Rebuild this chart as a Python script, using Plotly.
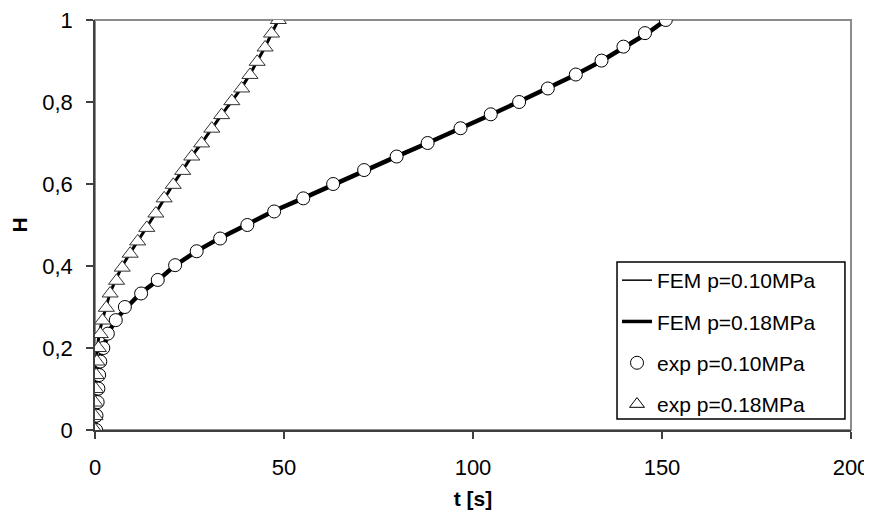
import plotly.graph_objects as go

# experimental data, p = 0.10 MPa (circles)
exp010_t = [0.3, 0.4, 0.7, 0.9, 1.1, 1.4, 2.2, 3.4, 5.5, 7.9, 12.2, 16.6, 21.2, 26.9, 33.1, 40.3,
            47.4, 55.1, 63.0, 71.2, 79.8, 88.0, 96.7, 104.7, 112.2, 119.8, 127.2, 134.0, 139.8, 145.5, 151.0]
exp010_H = [0.0, 0.035, 0.068, 0.101, 0.134, 0.167, 0.2, 0.235, 0.268, 0.3, 0.333, 0.366, 0.402,
            0.436, 0.467, 0.5, 0.533, 0.565, 0.6, 0.634, 0.667, 0.7, 0.736, 0.77, 0.8, 0.833, 0.867,
            0.901, 0.935, 0.968, 1.0]

# experimental data, p = 0.18 MPa (triangles)
exp018_t = [0.0, 0.0, 0.0, 0.2, 0.3, 0.5, 0.9, 1.4, 2.0, 3.0, 4.0, 5.7, 7.2, 9.3, 11.3, 13.7, 16.1,
            18.3, 20.7, 23.2, 25.6, 28.2, 30.9, 33.5, 36.2, 38.8, 41.0, 42.9, 45.0, 46.7, 48.5]
exp018_H = [0.0, 0.034, 0.067, 0.1, 0.134, 0.167, 0.2, 0.234, 0.267, 0.298, 0.333, 0.364, 0.396,
            0.43, 0.46, 0.493, 0.528, 0.565, 0.598, 0.632, 0.667, 0.699, 0.735, 0.768, 0.802, 0.833,
            0.866, 0.898, 0.933, 0.967, 1.0]

# FEM results
fem010_t = [0, 0.5, 1.5, 2.5, 4, 6, 9, 12, 17, 21, 27, 33, 40, 47, 55, 63, 71, 80, 88, 97, 105,
            112, 120, 127, 134, 140, 146, 151]
fem010_H = [0, 0.1, 0.18, 0.21, 0.245, 0.275, 0.305, 0.333, 0.368, 0.4, 0.437, 0.468, 0.5, 0.533,
            0.565, 0.598, 0.633, 0.668, 0.7, 0.736, 0.77, 0.8, 0.834, 0.866, 0.9, 0.934, 0.967, 1.0]
fem018_t = [0, 0.3, 0.6, 1.2, 2.0, 3.0, 4.0, 5.5, 7.2, 9.3, 11.3, 13.7, 16.1, 18.4, 20.7, 23.2,
            25.6, 28.2, 30.9, 33.5, 36.2, 38.8, 41.0, 43.0, 45.0, 46.7, 48.5]
fem018_H = [0, 0.15, 0.2, 0.24, 0.27, 0.302, 0.335, 0.367, 0.4, 0.432, 0.462, 0.495, 0.53, 0.566,
            0.6, 0.634, 0.668, 0.7, 0.736, 0.769, 0.802, 0.835, 0.868, 0.9, 0.934, 0.967, 1.0]

x_ticks = [0, 50, 100, 150, 200]
y_ticks = [0, 0.2, 0.4, 0.6, 0.8, 1]

FONT = "Liberation Sans, Arial, sans-serif"

fig = go.Figure()

fig.add_trace(go.Scatter(x=fem010_t, y=fem010_H, mode="lines", showlegend=False,
                         line=dict(color="black", width=4.5)))
fig.add_trace(go.Scatter(x=fem018_t, y=fem018_H, mode="lines", showlegend=False,
                         line=dict(color="black", width=3)))
fig.add_trace(go.Scatter(x=exp010_t, y=exp010_H, mode="markers", showlegend=False,
                         marker=dict(symbol="circle", size=13, color="white",
                                     line=dict(color="black", width=1))))
fig.add_trace(go.Scatter(x=exp018_t, y=exp018_H, mode="markers", showlegend=False,
                         marker=dict(symbol="triangle-up", size=14, color="white",
                                     line=dict(color="#333333", width=1))))

# legend entries
fig.add_trace(go.Scatter(x=[None], y=[None], mode="lines", name="FEM p=0.10MPa",
                         legendgroup="a", line=dict(color="black", width=1.5)))
fig.add_trace(go.Scatter(x=[None], y=[None], mode="lines", name="FEM p=0.18MPa",
                         legendgroup="b", line=dict(color="black", width=3.5)))
fig.add_trace(go.Scatter(x=[None], y=[None], mode="markers", name="exp p=0.10MPa",
                         legendgroup="c",
                         marker=dict(symbol="circle", size=13, color="white",
                                     line=dict(color="black", width=1))))
fig.add_trace(go.Scatter(x=[None], y=[None], mode="markers", name="exp p=0.18MPa",
                         legendgroup="d",
                         marker=dict(symbol="triangle-up", size=13, color="white",
                                     line=dict(color="black", width=1))))

fig.update_layout(
    template="none",
    width=864, height=513,
    margin=dict(l=87, r=21, t=12, b=91, autoexpand=False),
    paper_bgcolor="white", plot_bgcolor="white",
    separators=", ",
    font=dict(family=FONT, size=22, color="black"),
    showlegend=True,
    legend=dict(x=0.6905, xanchor="left", y=0.4146, yanchor="top",
                bgcolor="rgba(0,0,0,0)", borderwidth=0,
                font=dict(size=21), tracegroupgap=11, itemwidth=30,
                traceorder="grouped"),
    shapes=[
        dict(type="rect", xref="paper", yref="paper", x0=0, y0=0, x1=1, y1=1,
             line=dict(color="#8c8c8c", width=2), layer="below"),
        dict(type="rect", xref="paper", yref="paper", x0=0.6905, y0=0.0268, x1=0.992, y1=0.4098,
             line=dict(color="black", width=1.5), fillcolor="white", layer="above"),
    ],
)
fig.update_xaxes(range=[0, 200], tickvals=x_ticks, showgrid=False, zeroline=False,
                 automargin=False, ticklabeloverflow="allow",
                 showline=True, linecolor="#404040", linewidth=1.5,
                 ticks="outside", ticklen=7, tickcolor="#404040", tickwidth=1.5,
                 ticklabelstandoff=10,
                 title=dict(text="<b>t [s]</b>", font=dict(size=21), standoff=12))
fig.update_yaxes(range=[0, 1], tickvals=y_ticks, showgrid=False, zeroline=False,
                 automargin=False, ticklabeloverflow="allow",
                 showline=True, linecolor="#404040", linewidth=1.5,
                 ticks="outside", ticklen=7, tickcolor="#404040", tickwidth=1.5,
                 ticklabelstandoff=9,
                 title=dict(text="<b>H</b>", font=dict(size=21), standoff=14))

fig.write_html("out.html")
